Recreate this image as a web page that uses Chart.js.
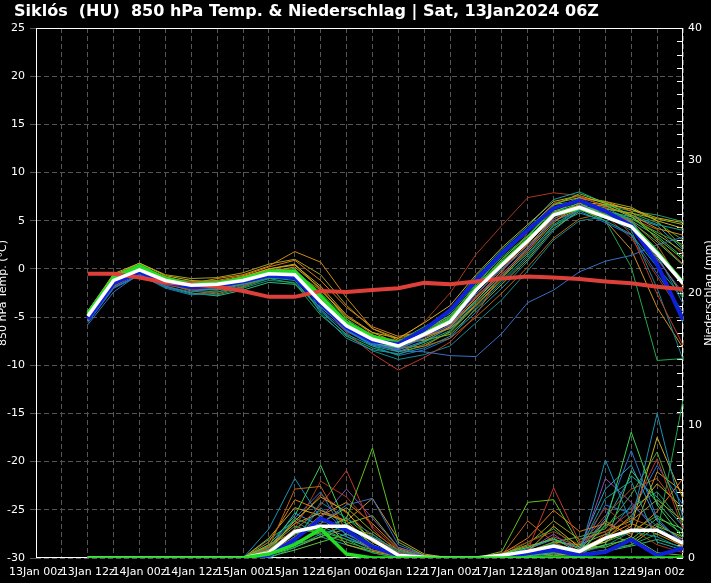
<!DOCTYPE html>
<html lang="de">
<head>
  <meta charset="UTF-8">
  <title>Siklós 850 hPa Temp. & Niederschlag</title>
  <script src="https://cdn.jsdelivr.net/npm/chart.js"></script>
  <style>
    html, body { margin: 0; padding: 0; background: #000; }
    canvas { display: block; }
  </style>
</head>
<body>
  <canvas id="grafico" width="711" height="583"></canvas>

  <script>
    const titel = 'Siklós  (HU)  850 hPa Temp. & Niederschlag | Sat, 13Jan2024 06Z';
    const tempTitel = '850 hPa Temp. (°C)';
    const niedTitel = 'Niederschlag (mm)';

    // Stunden ab 13Jan 00z
    const stunden = [12, 18, 24, 30, 36, 42, 48, 54, 60, 66, 72, 78, 84, 90, 96, 102, 108, 114, 120, 126, 132, 138, 144, 150];
    // Beschriftung alle 12 Stunden ab 0
    const zeitLabels = ['13Jan 00z', '13Jan 12z', '14Jan 00z', '14Jan 12z', '15Jan 00z', '15Jan 12z', '16Jan 00z',
                        '16Jan 12z', '17Jan 00z', '17Jan 12z', '18Jan 00z', '18Jan 12z', '19Jan 00z'];

    // 850 hPa Temperatur
    const tempMittel    = [-4.9, -1.2, -0.1, -1.2, -1.7, -1.6, -1.2, -0.5, -0.6, -3.4, -5.9, -7.3, -8.0, -6.8, -5.5, -2.2, 0.4, 2.9, 5.6, 6.4, 5.4, 4.4, 1.6, -1.5];
    const tempKontrolle = [-5.2, -1.5, -0.3, -1.4, -1.9, -1.8, -1.3, -0.7, -0.9, -3.6, -6.1, -7.5, -7.8, -6.3, -4.3, -1.2, 1.6, 4.0, 6.3, 7.1, 6.0, 4.5, 0.5, -5.3];
    const tempHauptlauf = [-4.6, -0.9, 0.3, -1.0, -1.6, -1.5, -1.0, -0.3, -0.3, -2.8, -5.6, -7.0, -7.7, -6.7, -5.4, -2.1, 0.5, 3.0, 5.6, 6.3, 5.4, 4.5, 1.7, -1.4];
    const tempKlima     = [-0.5, -0.5, -0.9, -1.4, -1.6, -1.85, -2.3, -2.9, -2.9, -2.3, -2.4, -2.2, -2.0, -1.45, -1.6, -1.3, -1.0, -0.8, -0.9, -1.05, -1.3, -1.5, -1.85, -2.1];

    const tempMitglieder = [
      [-4.7, -0.8, 0.5, -1.0, -1.4, -1.3, -0.9, -0.2, -0.1, -2.5, -5.2, -6.9, -7.5, -6.0, -4.6, -1.5, 1.2, 3.5, 6.3, 7.2, 6.1, 5.2, 3.8, 2.5],
      [-5.2, -1.5, -0.4, -1.6, -2.0, -2.2, -1.6, -0.9, -1.2, -4.4, -6.8, -8.0, -8.6, -7.6, -6.4, -3.4, -0.8, 1.6, 4.5, 5.8, 5.0, 3.6, 0.2, -3.0],
      [-4.8, -1.0, 0.2, -0.8, -1.5, -1.0, -0.6, 0.3, 1.8, 0.7, -3.0, -6.2, -7.4, -7.0, -6.2, -3.8, -1.0, 1.8, 4.8, 6.8, 6.5, 5.6, 4.2, 3.5],
      [-5.6, -2.0, -0.6, -1.8, -2.4, -2.0, -1.4, -0.4, -0.3, -4.2, -6.5, -7.8, -8.3, -7.2, -5.8, -2.6, 0.0, 2.2, 5.0, 6.0, 4.8, 3.5, -0.5, -4.5],
      [-4.5, -0.6, 0.4, -1.2, -1.9, -1.8, -1.1, -0.4, -0.7, -3.0, -5.6, -7.0, -7.8, -7.4, -6.8, -4.2, -1.6, 1.0, 4.2, 6.0, 6.2, 5.8, 5.2, 4.6],
      [-5.0, -1.3, -0.2, -1.3, -1.6, -1.7, -1.3, -0.6, -0.8, -3.8, -6.3, -7.7, -8.2, -6.4, -4.8, -1.8, 1.0, 3.4, 6.0, 6.8, 5.6, 4.8, 2.0, -1.2],
      [-5.3, -1.6, -0.3, -1.5, -2.3, -2.6, -1.8, -0.8, -0.4, -2.2, -4.8, -6.8, -8.2, -8.0, -7.2, -5.0, -2.5, 0.2, 3.2, 5.2, 5.8, 5.0, 2.5, -1.8],
      [-4.9, -1.1, 0.0, -0.9, -1.4, -1.6, -1.0, -0.2, -0.6, -4.6, -7.2, -8.4, -8.8, -8.2, -7.0, -4.5, -2.0, 0.8, 4.0, 6.2, 6.0, 5.1, 0.8, -5.6],
      [-4.6, -0.9, 0.3, -1.1, -1.8, -2.0, -1.5, -0.7, -0.5, -3.2, -5.9, -7.4, -8.1, -6.9, -5.2, -2.0, 0.8, 3.2, 6.6, 7.8, 6.9, 5.5, 3.2, 1.0],
      [-5.1, -1.4, -0.1, -1.3, -2.1, -2.2, -1.6, -0.8, -1.0, -3.6, -6.6, -8.8, -10.5, -9.2, -7.6, -4.8, -0.4, 3.8, 6.8, 7.6, 6.4, 3.6, -2.6, -7.9],
      [-5.8, -2.4, -0.5, -1.6, -1.9, -1.5, -1.0, -0.3, -0.2, -3.9, -6.4, -7.8, -8.5, -8.6, -9.0, -9.1, -6.7, -3.5, -2.2, -0.3, 0.8, 1.4, 2.5, 3.3],
      [-4.4, -0.5, 0.6, -0.7, -1.2, -1.4, -0.8, 0.0, 0.4, -1.8, -4.8, -6.6, -7.2, -5.6, -3.8, -0.6, 2.2, 4.6, 7.0, 7.6, 6.8, 6.2, 5.0, 4.2],
      [-5.0, -1.2, 0.1, -1.4, -2.2, -2.4, -1.9, -1.0, -1.5, -4.8, -7.0, -8.2, -8.9, -7.8, -6.6, -3.8, -1.2, 1.4, 4.6, 6.2, 5.0, 0.2, -9.5, -9.3],
      [-4.8, -1.0, -0.2, -1.1, -1.5, -1.5, -1.1, -0.3, -0.2, -2.8, -5.4, -6.9, -7.6, -6.2, -4.2, -0.8, 2.0, 4.4, 7.2, 8.0, 6.8, 5.6, 4.6, 4.0],
      [-5.4, -1.8, -0.4, -1.0, -1.3, -1.2, -0.7, 0.2, 0.9, -1.2, -4.0, -6.0, -7.0, -6.5, -5.8, -3.0, -0.2, 2.6, 5.8, 7.3, 7.0, 6.0, 3.0, 0.5],
      [-5.1, -1.3, -0.2, -1.5, -1.8, -1.9, -1.3, -0.6, -0.9, -3.5, -6.2, -7.6, -8.4, -7.0, -5.9, -2.9, -0.5, 2.0, 5.2, 6.6, 5.9, 4.8, 1.0, -2.5],
      [-4.7, -0.7, 0.4, -0.9, -1.7, -1.8, -1.4, -0.5, -0.4, -3.1, -5.7, -7.1, -7.9, -6.6, -5.0, -1.6, 1.4, 3.8, 6.4, 7.0, 6.3, 5.8, 4.8, 3.0],
      [-5.5, -2.0, -0.7, -1.9, -2.6, -2.7, -2.0, -1.2, -1.4, -4.2, -6.9, -8.5, -9.4, -8.9, -8.0, -5.6, -3.2, -0.2, 3.0, 5.0, 5.4, 4.0, -2.0, -9.4],
      [-4.9, -1.1, 0.2, -1.2, -1.6, -1.3, -0.9, 0.0, 0.5, -2.2, -5.0, -6.6, -7.7, -7.3, -6.0, -3.2, -0.6, 2.2, 5.4, 6.9, 6.7, 6.2, 5.3, 4.8],
      [-5.2, -1.6, -0.3, -1.7, -2.1, -1.9, -1.2, -0.4, -0.7, -3.6, -6.0, -7.0, -7.4, -5.5, -2.5, 1.5, 4.5, 7.4, 7.9, 7.6, 5.5, 3.2, -0.8, -4.8],
      [-4.8, -1.0, 0.1, -1.0, -1.5, -1.7, -1.3, -0.7, -0.9, -3.3, -6.0, -7.5, -8.2, -6.6, -5.1, -2.3, 0.6, 3.1, 5.9, 6.6, 5.7, 4.9, 2.8, 0.4],
      [-5.0, -1.2, 0.0, -1.3, -2.0, -1.9, -1.4, -0.3, 0.2, -2.0, -5.2, -7.4, -8.6, -8.0, -6.5, -3.6, -0.8, 2.0, 5.0, 6.2, 5.0, 2.0, -4.0, -8.2],
      [-4.6, -0.8, 0.3, -1.3, -1.9, -2.1, -1.5, -0.5, -0.6, -3.6, -6.1, -7.4, -8.0, -6.2, -4.4, -1.2, 1.8, 4.0, 6.8, 7.4, 6.6, 5.4, 3.6, 1.8],
      [-5.3, -1.7, -0.5, -1.4, -1.8, -1.6, -1.1, -0.6, -0.8, -3.7, -6.4, -7.9, -8.4, -7.5, -6.1, -3.3, -0.2, 2.6, 5.5, 6.5, 6.0, 5.4, 4.5, 2.0],
      [-5.0, -1.4, -0.3, -1.8, -2.5, -2.8, -2.2, -1.4, -1.6, -4.0, -6.2, -7.6, -8.3, -7.0, -5.6, -2.4, 0.5, 3.0, 5.8, 6.6, 5.9, 5.0, 3.4, 1.2],
      [-4.4, -0.7, 0.6, -0.6, -1.0, -0.9, -0.4, 0.5, 1.0, -0.6, -3.8, -6.2, -7.2, -6.4, -5.0, -2.0, 1.0, 3.4, 6.2, 7.4, 7.0, 6.4, 5.0, 2.2],
      [-5.4, -1.9, -0.6, -2.0, -2.7, -2.4, -1.7, -1.0, -1.0, -3.4, -6.4, -8.0, -9.0, -8.4, -7.2, -4.0, -1.4, 1.2, 4.4, 6.2, 6.4, 5.0, 1.5, -3.6],
      [-4.8, -1.1, 0.2, -1.1, -1.6, -1.4, -0.9, -0.1, 0.0, -2.9, -5.5, -7.2, -7.9, -6.5, -5.3, -1.8, 1.5, 4.2, 6.7, 7.0, 5.8, 4.6, 1.2, -2.8],
      [-5.1, -1.3, 0.0, -1.2, -1.9, -2.1, -1.5, -0.4, -0.4, -3.2, -5.9, -7.6, -8.6, -7.6, -6.0, -2.8, 0.2, 2.4, 5.2, 6.3, 5.6, 5.2, 4.1, 1.5],
      [-4.7, -0.9, 0.2, -1.5, -2.0, -1.6, -1.1, -0.5, -0.6, -3.0, -5.8, -7.1, -7.7, -6.1, -4.9, -2.6, 0.0, 2.8, 5.6, 6.6, 6.6, 6.0, 5.6, 4.9]
    ];

    // Niederschlag (mm / 6h)
    const niedMittel    = [0, 0, 0, 0, 0, 0, 0, 0.4, 2.0, 2.4, 2.4, 1.4, 0.2, 0.05, 0, 0, 0.2, 0.5, 0.9, 0.5, 1.5, 2.1, 2.1, 1.1];
    const niedKontrolle = [0, 0, 0, 0, 0, 0, 0, 0.2, 1.4, 3.0, 2.1, 0.85, 0.2, 0, 0, 0, 0.05, 0.35, 0.6, 0.2, 0.45, 1.4, 0.2, 0.75];
    const niedHauptlauf = [0, 0, 0, 0, 0, 0, 0, 0.3, 1.0, 2.2, 0.3, 0, 0, 0, 0, 0, 0, 0, 0, 0, 0, 0, 0, 0];

    const niedMitglieder = [
      [0, 0, 0, 0, 0, 0, 0, 1.0, 3.2, 7.0, 2.5, 1.0, 0.2, 0, 0, 0, 0.3, 0.8, 1.5, 0.4, 2.5, 9.5, 4.0, 1.5],
      [0, 0, 0, 0, 0, 0, 0.1, 0.8, 5.2, 5.4, 2.0, 0.6, 0.1, 0, 0, 0, 0.2, 2.8, 1.2, 0.3, 1.8, 3.0, 2.2, 0.8],
      [0, 0, 0, 0, 0, 0, 0, 2.2, 6.0, 3.0, 1.8, 0.8, 0, 0, 0, 0, 0, 0.4, 0.6, 0.2, 7.4, 2.6, 10.9, 3.0],
      [0, 0, 0, 0, 0, 0, 0, 0.3, 1.0, 2.0, 3.0, 8.3, 1.2, 0.2, 0, 0, 0.5, 4.2, 4.4, 1.0, 0.8, 1.6, 0.4, 0.2],
      [0, 0, 0, 0, 0, 0, 0, 0.5, 2.0, 4.0, 6.6, 2.2, 0.4, 0, 0, 0, 0.2, 0.6, 5.3, 1.2, 2.0, 3.5, 7.5, 2.2],
      [0, 0, 0, 0, 0, 0, 0, 0.2, 1.5, 2.6, 4.0, 4.5, 1.0, 0.2, 0, 0, 0, 0.3, 1.0, 0.6, 3.0, 8.1, 3.0, 1.0],
      [0, 0, 0, 0, 0, 0, 0, 0.6, 2.8, 4.6, 3.5, 1.2, 0.3, 0, 0, 0, 0.1, 0.5, 2.4, 0.8, 1.2, 2.4, 9.1, 4.5],
      [0, 0, 0, 0, 0, 0, 0, 0.4, 3.0, 2.2, 1.4, 0.4, 0, 0, 0, 0, 0, 0.2, 0.5, 0.3, 0.6, 1.0, 1.8, 11.9],
      [0, 0, 0, 0, 0, 0, 0, 0, 0.8, 1.8, 2.4, 1.6, 0.6, 0.1, 0, 0, 0, 0.1, 0.4, 0.6, 4.5, 5.8, 1.2, 0.6],
      [0, 0, 0, 0, 0, 0, 0, 1.2, 4.4, 3.6, 2.8, 1.0, 0.2, 0, 0, 0, 0.3, 1.5, 3.6, 2.0, 2.6, 1.8, 3.5, 6.0],
      [0, 0, 0, 0, 0, 0, 0, 0.3, 1.6, 3.0, 5.2, 3.0, 0.8, 0.2, 0, 0, 0, 0.6, 1.8, 0.4, 6.0, 4.2, 2.0, 1.4],
      [0, 0, 0, 0, 0, 0, 0, 0.8, 2.4, 1.8, 1.2, 0.6, 0.2, 0, 0, 0, 0.2, 0.4, 1.2, 1.6, 2.2, 4.8, 8.0, 2.6],
      [0, 0, 0, 0, 0, 0, 0, 0.2, 1.2, 4.2, 3.0, 1.8, 0.4, 0, 0, 0, 0.1, 0.8, 0.5, 0.4, 0.9, 2.0, 1.6, 0.7],
      [0, 0, 0, 0, 0, 0, 0, 1.5, 3.8, 3.2, 1.0, 0.5, 0.1, 0, 0, 0, 0, 0.2, 0.3, 0.2, 1.4, 3.2, 5.6, 3.8],
      [0, 0, 0, 0, 0, 0, 0, 0.6, 2.2, 5.8, 4.6, 2.4, 0.6, 0.1, 0, 0, 0.4, 1.2, 2.0, 1.0, 3.8, 2.2, 1.0, 0.4],
      [0, 0, 0, 0, 0, 0, 0, 0.4, 1.8, 2.8, 2.2, 1.4, 0.4, 0, 0, 0, 0, 0.3, 0.9, 0.5, 1.0, 6.6, 4.2, 2.0],
      [0, 0, 0, 0, 0, 0, 0, 0.9, 2.6, 3.4, 2.8, 4.5, 1.4, 0.3, 0, 0, 0.2, 0.5, 1.0, 0.6, 2.8, 1.6, 6.5, 5.0],
      [0, 0, 0, 0, 0, 0, 0, 0.2, 0.8, 1.6, 2.6, 3.2, 0.8, 0.2, 0, 0, 0, 0.2, 0.4, 0.2, 0.6, 1.0, 2.4, 1.6],
      [0, 0, 0, 0, 0, 0, 0, 0.7, 3.4, 2.4, 1.6, 0.8, 0.2, 0, 0, 0, 0.2, 0.7, 1.4, 0.8, 5.2, 7.0, 2.8, 1.2],
      [0, 0, 0, 0, 0, 0, 0, 0.3, 1.2, 2.0, 1.4, 0.8, 0.3, 0, 0, 0, 0, 0.1, 0.2, 0.1, 0.5, 0.9, 1.4, 0.8],
      [0, 0, 0, 0, 0, 0, 0, 1.0, 2.0, 2.6, 3.8, 2.0, 0.6, 0.1, 0, 0, 0.3, 1.0, 2.8, 1.4, 2.0, 2.8, 4.4, 2.8],
      [0, 0, 0, 0, 0, 0, 0, 0.5, 1.4, 3.8, 2.0, 1.0, 0.3, 0, 0, 0, 0.1, 0.3, 0.8, 0.3, 1.6, 4.0, 2.4, 1.0],
      [0, 0, 0, 0, 0, 0, 0, 0.1, 0.6, 1.2, 1.8, 1.0, 0.2, 0, 0, 0, 0, 0.2, 0.6, 0.4, 1.0, 1.4, 3.0, 2.2],
      [0, 0, 0, 0, 0, 0, 0, 0.8, 2.6, 4.8, 3.4, 1.6, 0.4, 0.1, 0, 0, 0.2, 0.6, 1.6, 0.9, 3.2, 5.2, 6.0, 3.4],
      [0, 0, 0, 0, 0, 0, 0, 0.6, 2.2, 3.6, 2.6, 1.2, 0.3, 0, 0, 0, 0.1, 0.4, 1.1, 0.5, 2.4, 3.8, 5.0, 2.6],
      [0, 0, 0, 0, 0, 0, 0, 0.3, 1.8, 2.2, 3.0, 1.4, 0.5, 0.1, 0, 0, 0.2, 1.2, 2.2, 0.6, 1.2, 2.0, 3.2, 1.8],
      [0, 0, 0, 0, 0, 0, 0, 1.4, 2.8, 1.6, 1.0, 0.4, 0, 0, 0, 0, 0, 0.2, 0.4, 0.2, 2.8, 6.2, 4.6, 2.4],
      [0, 0, 0, 0, 0, 0, 0, 0.4, 1.6, 3.2, 4.2, 2.6, 0.7, 0.1, 0, 0, 0.3, 0.9, 1.4, 0.7, 1.6, 2.6, 1.8, 0.9],
      [0, 0, 0, 0, 0, 0, 0, 0.8, 3.0, 5.0, 1.6, 0.6, 0.2, 0, 0, 0, 0, 0.2, 0.8, 0.4, 4.0, 3.4, 7.0, 4.0],
      [0, 0, 0, 0, 0, 0, 0, 0.2, 1.0, 1.6, 2.2, 1.8, 0.4, 0, 0, 0, 0.1, 0.5, 1.2, 1.0, 1.8, 1.2, 2.6, 1.4]
    ];

    // Farben der Ensemble-Mitglieder
    const farben = ['#2fb52f', '#14a39a', '#d08a10', '#2a6fd6', '#8fb020', '#3ccf5a', '#b8661a', '#1b8fb5',
                    '#5fc21e', '#c0392b', '#3570c8', '#c8b020', '#20a84a', '#16a0a0', '#e07818', '#8a4ab0',
                    '#4aa83a', '#168a8a', '#c8a818', '#a8381c', '#40c070', '#d09028', '#7ac030', '#2c9ec8',
                    '#33bb77', '#a0a020', '#1e78b4', '#5cc83c', '#b85020', '#229966'];

    function punkte(werte) {
      return stunden.map((h, i) => ({ x: h, y: werte[i] }));
    }

    const datensaetze = [];
    datensaetze.push({ data: punkte(tempMittel), borderColor: '#ffffff', borderWidth: 3.5, yAxisID: 'yT', order: 0 });
    datensaetze.push({ data: punkte(niedHauptlauf), borderColor: '#22dd22', borderWidth: 3.5, yAxisID: 'yP', order: 0 });
    datensaetze.push({ data: punkte(niedMittel), borderColor: '#ffffff', borderWidth: 3.5, yAxisID: 'yP', order: 1 });
    datensaetze.push({ data: punkte(tempKlima), borderColor: '#dd4038', borderWidth: 4, yAxisID: 'yT', order: 1 });
    datensaetze.push({ data: punkte(tempKontrolle), borderColor: '#1020d8', borderWidth: 4, yAxisID: 'yT', order: 2 });
    datensaetze.push({ data: punkte(niedKontrolle), borderColor: '#1020d8', borderWidth: 4, yAxisID: 'yP', order: 2 });
    datensaetze.push({ data: punkte(tempHauptlauf), borderColor: '#22dd22', borderWidth: 3.5, yAxisID: 'yT', order: 3 });

    tempMitglieder.forEach((m, i) => {
      datensaetze.push({ data: punkte(m), borderColor: farben[i % farben.length], borderWidth: 1, yAxisID: 'yT', order: 10 });
    });
    niedMitglieder.forEach((m, i) => {
      datensaetze.push({ data: punkte(m), borderColor: farben[(i + 5) % farben.length], borderWidth: 1, yAxisID: 'yP', order: 10 });
    });

    // Rahmen, Ticks rechts, Titel
    const extras = {
      id: 'extras',
      beforeDatasetsDraw(chart) {
        const { ctx, chartArea: a } = chart;
        ctx.save();
        ctx.strokeStyle = '#ffffff';
        ctx.lineWidth = 1;
        ctx.strokeRect(a.left + 0.5, a.top + 0.5, a.right - a.left - 1, a.bottom - a.top - 1);
        const yP = chart.scales.yP;
        ctx.beginPath();
        yP.ticks.forEach(t => {
          const y = Math.round(yP.getPixelForValue(t.value)) + 0.5;
          ctx.moveTo(a.right - 6, y);
          ctx.lineTo(a.right, y);
        });
        ctx.stroke();
        ctx.restore();
      },
      afterDraw(chart) {
        const { ctx, chartArea: a } = chart;
        const mitte = (a.top + a.bottom) / 2;
        ctx.save();
        ctx.fillStyle = '#ffffff';
        ctx.textBaseline = 'middle';
        ctx.textAlign = 'left';
        ctx.font = 'bold 16px "DejaVu Sans"';
        ctx.fillText(titel, 14, 12);

        ctx.font = '11px "DejaVu Sans"';
        ctx.textAlign = 'center';
        ctx.save();
        ctx.translate(3, mitte);
        ctx.rotate(-Math.PI / 2);
        ctx.fillText(tempTitel, 0, 0);
        ctx.restore();
        ctx.save();
        ctx.translate(709, mitte);
        ctx.rotate(-Math.PI / 2);
        ctx.fillText(niedTitel, 0, 0);
        ctx.restore();
        ctx.restore();
      }
    };

    Chart.defaults.font.family = '"DejaVu Sans"';
    Chart.defaults.font.size = 11;
    Chart.defaults.color = '#ffffff';

    new Chart(document.getElementById('grafico').getContext('2d'), {
      type: 'line',
      data: { datasets: datensaetze },
      plugins: [extras],
      options: {
        responsive: false,
        animation: false,
        layout: { padding: { top: 28 } },
        elements: { point: { radius: 0 }, line: { tension: 0 } },
        plugins: { legend: { display: false }, tooltip: { enabled: false } },
        scales: {
          x: {
            type: 'linear', min: 0, max: 150,
            ticks: {
              stepSize: 6, autoSkip: false, maxRotation: 0, padding: 8,
              callback: v => (v % 12 === 0 && v < 150) ? zeitLabels[v / 12] : ''
            },
            grid: { color: '#555555', drawTicks: false },
            border: { display: false, dash: [5, 3] },
            afterFit(s) { s.height = 25; }
          },
          yT: {
            position: 'left', min: -30, max: 25,
            ticks: { stepSize: 5, padding: 5 },
            grid: { color: '#555555', tickLength: 6 },
            border: { display: false, dash: [5, 3] },
            afterFit(s) { s.width = 36; }
          },
          yP: {
            position: 'right', min: 0, max: 40,
            ticks: { stepSize: 1, autoSkip: false, padding: 5, callback: v => v % 10 === 0 ? v : '' },
            grid: { drawOnChartArea: false, drawTicks: false },
            border: { display: false },
            afterFit(s) { s.width = 28; }
          }
        }
      }
    });
  </script>
</body>
</html>
